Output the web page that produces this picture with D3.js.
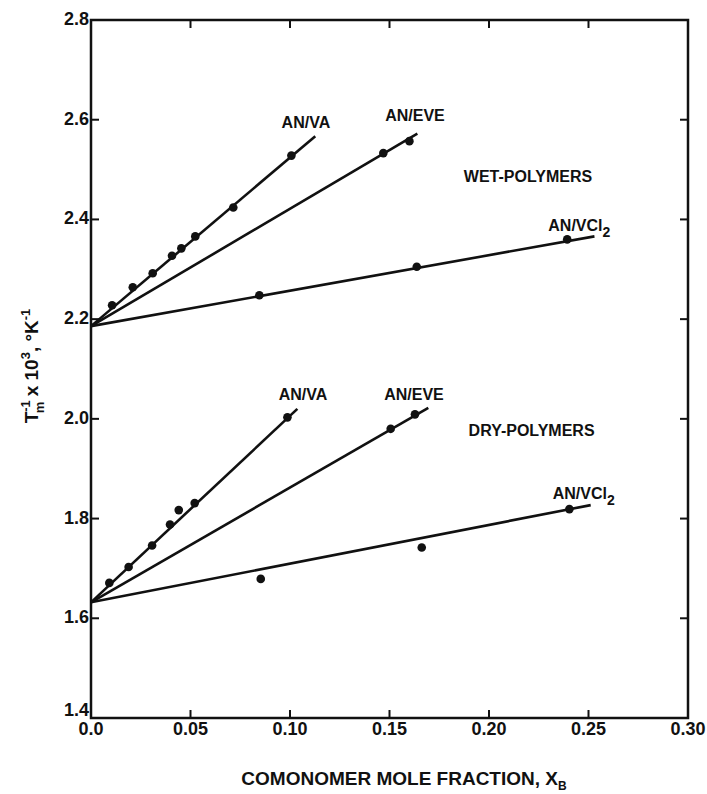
<!DOCTYPE html>
<html>
<head>
<meta charset="utf-8">
<script src="https://cdn.jsdelivr.net/npm/d3@7"></script>
<style>
  body { margin: 0; background: #fff; }
  svg { display: block; }
  text { font-family: "Liberation Sans", Arial, sans-serif; font-weight: bold; fill: #111; }
</style>
</head>
<body>
<svg width="707" height="794"></svg>
<script>
// ---- data ----
const xTicks = [0.0, 0.05, 0.10, 0.15, 0.20, 0.25, 0.30];
const xTickLabels = ["0.0", "0.05", "0.10", "0.15", "0.20", "0.25", "0.30"];
const yTicks = [1.4, 1.6, 1.8, 2.0, 2.2, 2.4, 2.6, 2.8];

// wet polymers
const wetVA = [[0.0106, 2.228], [0.021, 2.264], [0.031, 2.292], [0.0407, 2.327],
               [0.0454, 2.342], [0.0524, 2.366], [0.0715, 2.424], [0.1007, 2.528]];
const wetEVE = [[0.1469, 2.533], [0.1600, 2.557]];
const wetVCl2 = [[0.0846, 2.248], [0.1637, 2.305], [0.2393, 2.360]];

// dry polymers
const dryVA = [[0.0092, 1.671], [0.0189, 1.703], [0.0307, 1.746], [0.0397, 1.788],
               [0.0441, 1.817], [0.0521, 1.831], [0.0987, 2.003]];
const dryEVE = [[0.1506, 1.980], [0.1628, 2.009]];
const dryVCl2 = [[0.0853, 1.679], [0.1662, 1.742], [0.2404, 1.819]];

// fitted straight lines: [x0, y0, x1, y1]
const fitLines = [
  [0, 2.186, 0.1127, 2.567],
  [0, 2.186, 0.1640, 2.572],
  [0, 2.186, 0.2530, 2.366],
  [0, 1.632, 0.1037, 2.020],
  [0, 1.632, 0.1695, 2.022],
  [0, 1.632, 0.2511, 1.827]
];

// annotations: [text, x, y, anchor]
const notes = [
  ["AN/VA", 0.108, 2.584, "middle"],
  ["AN/EVE", 0.1628, 2.597, "middle"],
  ["WET-POLYMERS", 0.2196, 2.476, "middle"],
  ["AN/VCl", 0.2298, 2.377, "start"],
  ["AN/VA", 0.1065, 2.038, "middle"],
  ["AN/EVE", 0.1623, 2.038, "middle"],
  ["DRY-POLYMERS", 0.2214, 1.966, "middle"],
  ["AN/VCl", 0.232, 1.839, "start"]
];

// ---- layout ----
const svg = d3.select("svg");
const margin = { left: 91, top: 20, right: 19, bottom: 76 };
const W = 707, H = 794;

const x = d3.scaleLinear().domain([0, 0.30]).range([margin.left, W - margin.right]);
const y = d3.scaleLinear().domain([1.4, 2.8]).range([H - margin.bottom, margin.top]);

const g = svg.append("g");

// frame
g.append("rect")
  .attr("x", x(0)).attr("y", y(2.8))
  .attr("width", x(0.30) - x(0)).attr("height", y(1.4) - y(2.8))
  .attr("fill", "none").attr("stroke", "#111").attr("stroke-width", 2.5);

const tickLen = 8;
// bottom & top ticks (inward)
xTicks.slice(1, -1).forEach(t => {
  g.append("line").attr("x1", x(t)).attr("x2", x(t))
    .attr("y1", y(1.4)).attr("y2", y(1.4) - tickLen)
    .attr("stroke", "#111").attr("stroke-width", 2);
  g.append("line").attr("x1", x(t)).attr("x2", x(t))
    .attr("y1", y(2.8)).attr("y2", y(2.8) + tickLen)
    .attr("stroke", "#111").attr("stroke-width", 2);
});
// left & right ticks (inward)
yTicks.slice(1, -1).forEach(t => {
  g.append("line").attr("x1", x(0)).attr("x2", x(0) + tickLen)
    .attr("y1", y(t)).attr("y2", y(t))
    .attr("stroke", "#111").attr("stroke-width", 2);
  g.append("line").attr("x1", x(0.30)).attr("x2", x(0.30) - tickLen)
    .attr("y1", y(t)).attr("y2", y(t))
    .attr("stroke", "#111").attr("stroke-width", 2);
});

// tick labels
g.selectAll(".xl").data(xTicks).join("text")
  .attr("class", "xl")
  .attr("x", d => x(d)).attr("y", y(1.4) + 17)
  .attr("text-anchor", "middle").attr("font-size", 18)
  .text((d, i) => xTickLabels[i]);

g.selectAll(".yl").data(yTicks).join("text")
  .attr("class", "yl")
  .attr("x", x(0) - 2)
  .attr("y", d => d === 1.4 ? y(d) - 2 : y(d) + 5)
  .attr("text-anchor", "end").attr("font-size", 18)
  .text(d => d.toFixed(1));

// fitted lines
g.selectAll(".fit").data(fitLines).join("line")
  .attr("class", "fit")
  .attr("x1", d => x(d[0])).attr("y1", d => y(d[1]))
  .attr("x2", d => x(d[2])).attr("y2", d => y(d[3]))
  .attr("stroke", "#111").attr("stroke-width", 2.6);

// points
const allPts = [].concat(wetVA, wetEVE, wetVCl2, dryVA, dryEVE, dryVCl2);
g.selectAll(".pt").data(allPts).join("circle")
  .attr("class", "pt")
  .attr("cx", d => x(d[0])).attr("cy", d => y(d[1]))
  .attr("r", 4.3).attr("fill", "#111");

// annotations
notes.forEach(n => {
  const t = g.append("text")
    .attr("x", x(n[1])).attr("y", y(n[2]))
    .attr("text-anchor", n[3]).attr("font-size", 16)
    .text(n[0]);
  if (n[0] === "AN/VCl") {
    t.append("tspan").attr("dy", 6).attr("font-size", 14).text("2");
  }
});

// x title
const xt = g.append("text")
  .attr("x", 404).attr("y", 785)
  .attr("text-anchor", "middle").attr("font-size", 19)
  .text("COMONOMER MOLE FRACTION, X");
xt.append("tspan").attr("dy", 5).attr("font-size", 12).text("B");

// y title (the -1 sits over the subscript m)
const yt = g.append("text")
  .attr("transform", "translate(38,366) rotate(-90)")
  .attr("text-anchor", "middle").attr("font-size", 19);
yt.append("tspan").text("T");
yt.append("tspan").attr("dy", -8).attr("font-size", 13).text("-1");
yt.append("tspan").attr("dx", -13).attr("dy", 14).attr("font-size", 13).text("m");
yt.append("tspan").attr("dy", -6).text(" x 10");
yt.append("tspan").attr("dy", -8).attr("font-size", 13).text("3");
yt.append("tspan").attr("dy", 8).text(", °K");
yt.append("tspan").attr("dy", -8).attr("font-size", 13).text("-1");
</script>
</body>
</html>
